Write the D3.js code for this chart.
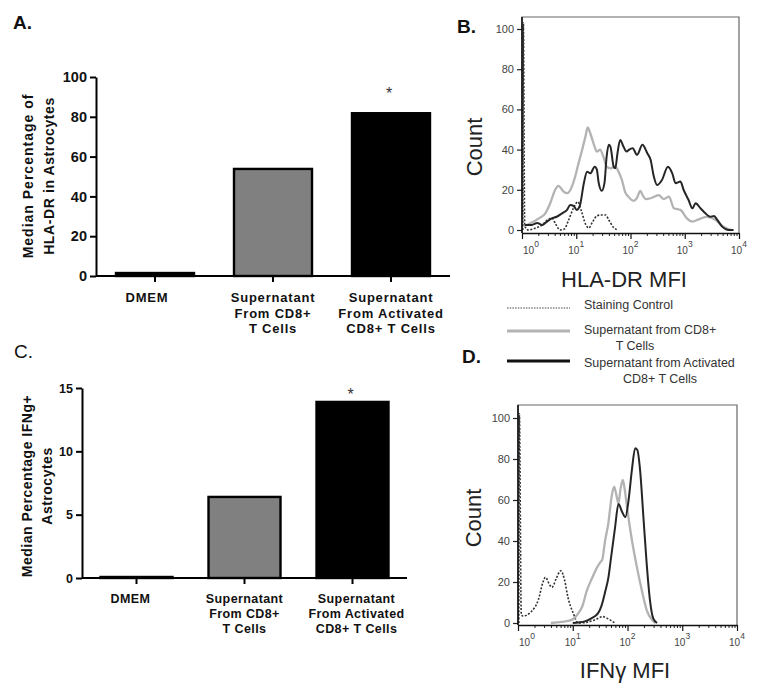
<!DOCTYPE html>
<html><head><meta charset="utf-8">
<script src="https://cdn.jsdelivr.net/npm/d3@7"></script>
<style>body{margin:0;background:#fff} svg{display:block;font-family:"Liberation Sans",Arial,sans-serif}</style>
</head><body><svg id="c" width="764" height="695"></svg>
<script>
// ---------- data ----------
const categories = ["DMEM", "Supernatant From CD8+ T Cells", "Supernatant From Activated CD8+ T Cells"];
const categoryLines = [["DMEM"], ["Supernatant", "From CD8+", "T Cells"], ["Supernatant", "From Activated", "CD8+ T Cells"]];
const hlaValues = [1.5, 53.8, 81.8];
const ifngValues = [0.08, 6.4, 13.9];
const barFills = ["#000000", "#808080", "#000000"];
const hlaTicks = [0, 20, 40, 60, 80, 100];
const ifngTicks = [0, 5, 10, 15];
const countTicks = [0, 20, 40, 60, 80, 100];
const decadeExps = [0, 1, 2, 3, 4];
const legendLabels = [["Staining Control"], ["Supernatant from CD8+", "T Cells"], ["Supernatant from Activated", "CD8+ T Cells"]];

// histogram series: [log10(MFI), count]
const hlaStain = [[0.015,0],[0.025,103],[0.05,2],[0.12,0],[0.25,1],[0.37,2.5],[0.47,5],[0.55,6],[0.62,3],[0.70,0],[0.78,0.5],[0.86,5],[0.95,11],[1.03,14],[1.10,9],[1.17,3],[1.23,1],[1.30,4],[1.38,7],[1.46,7.5],[1.54,7.5],[1.60,5],[1.68,1.5],[1.76,0]];
const hlaSup = [[0.05,2],[0.09,2.5],[0.18,3.7],[0.31,5.8],[0.43,8.3],[0.52,13.3],[0.61,19.9],[0.67,22],[0.77,19],[0.83,18.3],[0.92,21.6],[0.98,26.6],[1.04,33],[1.10,39],[1.17,46.5],[1.21,51],[1.26,48],[1.32,43],[1.38,39],[1.44,40],[1.50,36.5],[1.56,31.5],[1.63,30.7],[1.72,31.5],[1.78,29],[1.84,25],[1.90,19],[1.96,16.6],[2.06,14.5],[2.12,16],[2.18,19.5],[2.23,17],[2.28,15.4],[2.37,15.8],[2.52,17.4],[2.61,15.4],[2.71,16.6],[2.80,10.8],[2.92,10],[3.04,5.8],[3.14,4.2],[3.26,5.3],[3.41,6.6],[3.57,5],[3.69,2],[3.80,0.5],[3.87,0]];
const hlaAct = [[0.05,2.5],[0.18,2.5],[0.28,3.5],[0.37,2.5],[0.46,4.2],[0.55,5.8],[0.64,6.6],[0.74,8.3],[0.83,10],[0.89,12.5],[0.95,12],[1.01,10],[1.07,12.5],[1.14,23.3],[1.20,29],[1.26,28.2],[1.34,31.5],[1.38,30],[1.41,24],[1.47,19.5],[1.52,23.3],[1.56,36.5],[1.60,42.4],[1.63,41.5],[1.69,31.5],[1.72,30.7],[1.76,38.2],[1.81,44.8],[1.87,41.5],[1.93,39],[1.97,39.9],[2.04,40.7],[2.12,37.4],[2.22,42.4],[2.31,38.2],[2.37,34.9],[2.43,26.6],[2.49,22.4],[2.58,24.9],[2.69,31.5],[2.77,28.2],[2.83,23.3],[2.92,24.1],[2.98,19.9],[3.07,14.9],[3.14,10.8],[3.20,13.3],[3.29,10.8],[3.38,8.3],[3.47,6.6],[3.54,7],[3.60,5],[3.69,1.7],[3.81,0],[3.9,0]];
const ifnStain = [[0.015,0],[0.025,102],[0.06,4],[0.09,3.4],[0.24,5.5],[0.37,11.2],[0.46,20.2],[0.50,22.3],[0.58,18.5],[0.62,17.4],[0.70,21.8],[0.78,25.5],[0.85,21],[0.91,12.8],[1.01,4.7],[1.10,0],[1.25,0.3],[1.40,1.5],[1.55,3.1],[1.68,1.5],[1.77,0]];
const ifnSup = [[0.6,0],[0.8,0.5],[0.98,1.5],[1.05,3],[1.10,4.7],[1.17,7.8],[1.26,16],[1.35,21.7],[1.45,27.4],[1.50,29.5],[1.54,31],[1.59,40],[1.65,48.6],[1.71,61.6],[1.756,66.5],[1.80,62],[1.835,58.4],[1.87,65],[1.915,69.8],[1.95,65],[1.99,56.7],[2.08,40.5],[2.17,27.5],[2.26,16.1],[2.35,6.3],[2.45,1.5],[2.51,0]];
const ifnAct = [[1.0,0],[1.10,0.3],[1.22,0.8],[1.34,2.3],[1.46,4.7],[1.52,8],[1.59,15],[1.65,22],[1.70,32],[1.77,46],[1.835,58],[1.90,54.3],[1.96,51.6],[2.02,60],[2.08,74.6],[2.14,85.2],[2.18,84.4],[2.23,74.6],[2.29,51.9],[2.35,29.1],[2.41,11.2],[2.47,2.3],[2.54,0]];

const svg = d3.select("#c");
const FONT = '"Liberation Sans",Arial,sans-serif';

// ---------- bar chart ----------
function barChart(o) {
  const g = svg.append("g");
  const y = d3.scaleLinear().domain(o.domain).range([o.yBottom, o.yTop]);
  const x = d3.scaleBand().domain(categories).range([o.xLeft, o.xRight]).paddingInner(o.pi).paddingOuter(o.po);
  g.selectAll("rect.bar").data(o.values).join("rect").attr("class", "bar")
    .attr("x", (d, i) => x(categories[i]) + 1)
    .attr("width", x.bandwidth() - 2)
    .attr("y", d => y(d))
    .attr("height", d => Math.max(0, y(0) - y(d)))
    .attr("fill", (d, i) => barFills[i])
    .attr("stroke", "#000").attr("stroke-width", 2.4);
  const ya = g.append("g").attr("transform", `translate(${o.xLeft},0)`)
    .call(d3.axisLeft(y).tickValues(o.ticks).tickSize(6).tickSizeOuter(0).tickPadding(3));
  ya.select(".domain").attr("stroke-width", 2);
  ya.selectAll(".tick line").attr("stroke-width", 2);
  ya.selectAll("text").attr("font-family", FONT).attr("font-weight", "bold").attr("font-size", o.tickFont).attr("fill", "#111");
  const xa = g.append("g").attr("transform", `translate(0,${y(0)})`)
    .call(d3.axisBottom(x).tickSize(6).tickSizeOuter(0).tickFormat(""));
  xa.select(".domain").attr("stroke-width", 2).attr("d", `M${o.xLeft},0H${o.xRight}`);
  xa.selectAll(".tick line").attr("stroke-width", 2);
  categoryLines.forEach((lines, i) => {
    const t = g.append("text").attr("font-family", FONT).attr("font-weight", "bold")
      .attr("font-size", o.catFont).attr("letter-spacing", o.catSpacing).attr("text-anchor", "middle").attr("fill", "#111");
    lines.forEach((ln, j) => t.append("tspan").attr("x", x(categories[i]) + x.bandwidth() / 2 + (o.catDx ? o.catDx[i] : 0))
      .attr("y", o.catY + j * o.catLine).text(ln));
  });
  const tt = g.append("text").attr("transform", `translate(${o.titleX},${o.titleY}) rotate(-90)`)
    .attr("font-family", FONT).attr("font-weight", "bold").attr("font-size", 14).attr("text-anchor", "middle").attr("fill", "#111");
  o.title.forEach((ln, j) => tt.append("tspan").attr("x", 0).attr("y", j * o.titleLine).attr("letter-spacing", o.titleSpacing[j]).text(ln));
  g.append("text").attr("x", x(categories[2]) + x.bandwidth() / 2 - 2).attr("y", o.starY)
    .attr("font-family", FONT).attr("font-size", 16).attr("text-anchor", "middle").attr("fill", "#333").text("*");
}

barChart({domain: [0, 100], yBottom: 276, yTop: 77, xLeft: 96, xRight: 450, pi: 0.322, po: 0.161,
  values: hlaValues, ticks: hlaTicks, tickFont: 14.5, catFont: 13, catSpacing: 0.8, catY: 302, catLine: 15.5,
  catDx: [-8, 0, 0],
  title: ["Median Percentage of", "HLA-DR in  Astrocytes"], titleX: 33, titleY: 176, titleLine: 21, titleSpacing: [1, 0.6], starY: 99});

barChart({domain: [0, 15], yBottom: 578, yTop: 388, xLeft: 82, xRight: 407, pi: 0.315, po: 0.162,
  values: ifngValues, ticks: ifngTicks, tickFont: 12.5, catFont: 12.5, catSpacing: 0.4, catY: 603, catLine: 15,
  catDx: [-6, 0, 4],
  title: ["Median Percentage IFNg+", "Astrocytes"], titleX: 32, titleY: 486, titleLine: 20, titleSpacing: [0.5, 0.5], starY: 400});

// ---------- histograms ----------
function histogram(o) {
  const g = svg.append("g");
  const x = d3.scaleLog().domain([1, 1e4]).range([o.x0, o.x1]);
  const y = d3.scaleLinear().domain([0, 100]).range([o.yZero, o.yHundred]);
  g.append("path").attr("d", `M${o.x0},${o.axisY}V${o.top}H${o.x1}V${o.axisY}`).attr("fill", "none").attr("stroke", "#666").attr("stroke-width", 1.2);
  const line = d3.line().x(d => x(Math.pow(10, d[0]))).y(d => y(d[1])).curve(d3.curveMonotoneX);
  const styles = [
    {data: o.stain, stroke: "#333", w: 1.6, dash: "2,1.6"},
    {data: o.sup, stroke: "#b3b3b3", w: 2.3, dash: null},
    {data: o.act, stroke: "#262626", w: 2, dash: null}
  ];
  styles.forEach(s => {
    g.append("path").datum(s.data).attr("d", line).attr("fill", "none").attr("stroke", s.stroke)
      .attr("stroke-width", s.w).attr("stroke-dasharray", s.dash).attr("stroke-linejoin", "round");
  });
  const ya = g.append("g").attr("transform", `translate(${o.x0},0)`)
    .call(d3.axisLeft(y).tickValues(countTicks).tickSize(5).tickSizeOuter(0).tickPadding(3));
  ya.select(".domain").remove();
  ya.selectAll(".tick line").attr("stroke", "#222").attr("stroke-width", 1.2);
  ya.selectAll("text").attr("font-family", FONT).attr("font-size", 11).attr("fill", "#444");
  g.append("line").attr("x1", o.x0).attr("x2", o.x0).attr("y1", o.top).attr("y2", o.axisY).attr("stroke", "#111").attr("stroke-width", 1.6);
  const minor = [];
  decadeExps.slice(0, 4).forEach(e => { for (let m = 2; m <= 9; m++) minor.push(m * Math.pow(10, e)); });
  const xm = g.append("g").attr("transform", `translate(0,${o.axisY})`)
    .call(d3.axisBottom(x).tickValues(minor).tickSize(3).tickSizeOuter(0).tickFormat(""));
  xm.select(".domain").remove();
  xm.selectAll(".tick line").attr("stroke", "#222");
  const xa = g.append("g").attr("transform", `translate(0,${o.axisY})`)
    .call(d3.axisBottom(x).tickValues(decadeExps.map(e => Math.pow(10, e))).tickSize(6).tickSizeOuter(0).tickFormat(""));
  xa.select(".domain").attr("stroke", "#111").attr("stroke-width", 1.6);
  xa.selectAll(".tick line").attr("stroke", "#111").attr("stroke-width", 1.2);
  decadeExps.forEach((e, i) => {
    const t = g.append("text").attr("x", x(Math.pow(10, e)) + (i === 0 ? 9 : 0)).attr("y", o.axisY + 21)
      .attr("font-family", FONT).attr("font-size", 10).attr("fill", "#444").attr("text-anchor", "middle");
    t.append("tspan").text("10");
    t.append("tspan").attr("dy", -7).attr("font-size", 8.5).text(e);
  });
  g.append("text").attr("transform", `translate(${o.countX},${o.countY}) rotate(-90)`).attr("text-anchor", "middle")
    .attr("font-family", FONT).attr("font-size", 22).attr("fill", "#222").text("Count");
  g.append("text").attr("x", o.xtX).attr("y", o.xtY).attr("text-anchor", "middle")
    .attr("font-family", FONT).attr("font-size", 22).attr("fill", "#222").text(o.xTitle);
}

histogram({x0: 522, x1: 739, top: 17, axisY: 233, yZero: 230, yHundred: 29, stain: hlaStain, sup: hlaSup, act: hlaAct,
  countX: 482, countY: 147, xtX: 624, xtY: 287, xTitle: "HLA-DR MFI"});
histogram({x0: 518, x1: 737, top: 405, axisY: 625, yZero: 623, yHundred: 418, stain: ifnStain, sup: ifnSup, act: ifnAct,
  countX: 481, countY: 518, xtX: 625, xtY: 678, xTitle: "IFNγ MFI"});

// ---------- legend ----------
const legendStyles = [
  {y: 308, stroke: "#444", w: 1.2, dash: "1.5,1.2", ty: 309, ty2: null, cx: null},
  {y: 331, stroke: "#b3b3b3", w: 3, dash: null, ty: 334, ty2: 350, cx: 635},
  {y: 361, stroke: "#111", w: 3, dash: null, ty: 367, ty2: 383, cx: 660}
];
legendLabels.forEach((lab, i) => {
  const s = legendStyles[i];
  svg.append("line").attr("x1", 507).attr("x2", 570).attr("y1", s.y).attr("y2", s.y)
    .attr("stroke", s.stroke).attr("stroke-width", s.w).attr("stroke-dasharray", s.dash);
  svg.append("text").attr("x", 584).attr("y", s.ty).attr("font-family", FONT).attr("font-size", 12.5).attr("fill", "#333").text(lab[0]);
  if (lab[1]) svg.append("text").attr("x", s.cx).attr("y", s.ty2).attr("text-anchor", "middle")
    .attr("font-family", FONT).attr("font-size", 12.5).attr("fill", "#333").text(lab[1]);
});

// ---------- panel letters ----------
[["A.", 13, 29, "bold"], ["B.", 457, 33, "bold"], ["C.", 14, 358, "normal"], ["D.", 462, 363, "bold"]].forEach(p => {
  svg.append("text").attr("x", p[1]).attr("y", p[2]).attr("font-family", FONT).attr("font-size", 19)
    .attr("font-weight", p[3]).attr("fill", "#111").text(p[0]);
});
</script></body></html>
